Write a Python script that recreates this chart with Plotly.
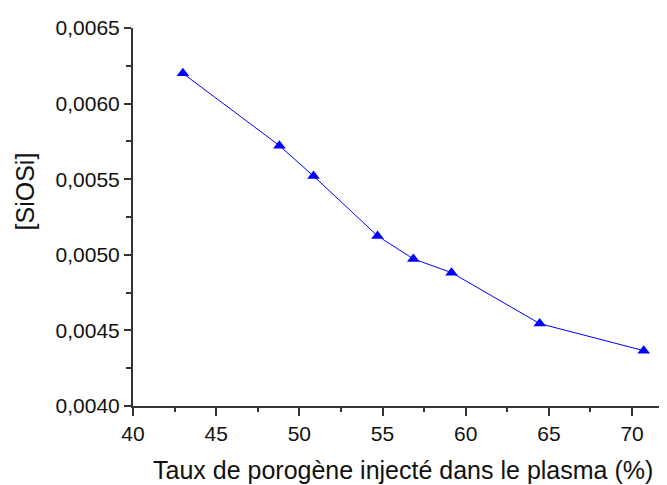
import plotly.graph_objects as go

# Taux de porogène (%) vs [SiOSi]
taux = [43.0, 48.8, 50.85, 54.7, 56.85, 59.15, 64.45, 70.7]
siosi = [0.00620, 0.005722, 0.005521, 0.005125, 0.004973, 0.004882, 0.004545, 0.004366]

x_ticks = [40, 45, 50, 55, 60, 65, 70]
y_ticks = [0.0040, 0.0045, 0.0050, 0.0055, 0.0060, 0.0065]

font = "Liberation Sans, Arial, sans-serif"
axis_color = "#333333"

fig = go.Figure()
fig.add_trace(go.Scatter(
    x=taux,
    y=siosi,
    mode="lines+markers",
    line=dict(color="#0000ff", width=1),
    marker=dict(symbol="triangle-up", size=11, color="#0000ff"),
    showlegend=False,
))

# page body has an 8px margin, so shift the plot area up/left by 8px
fig.update_layout(
    width=667,
    height=485,
    margin=dict(l=125, r=8, t=16, b=87),
    plot_bgcolor="white",
    paper_bgcolor="white",
    separators=",.",
    font=dict(family=font, size=21, color="#111111"),
    xaxis=dict(
        range=[40, 72.1],
        tickvals=x_ticks,
        showgrid=False,
        zeroline=False,
        showline=True,
        linecolor=axis_color,
        linewidth=2,
        ticks="outside",
        ticklen=8,
        tickwidth=1.5,
        tickcolor=axis_color,
        minor=dict(dtick=2.5, ticks="outside", ticklen=4, tickcolor=axis_color, tickwidth=1.5, showgrid=False),
    ),
    yaxis=dict(
        range=[0.0040, 0.0065],
        tickvals=y_ticks,
        tickformat=".4f",
        showgrid=False,
        zeroline=False,
        showline=True,
        linecolor=axis_color,
        linewidth=2,
        ticks="outside",
        ticklen=7,
        tickwidth=1.5,
        tickcolor=axis_color,
        minor=dict(dtick=0.00025, ticks="outside", ticklen=5, tickcolor=axis_color, tickwidth=1.5, showgrid=False),
    ),
    annotations=[
        dict(text="[SiOSi]", textangle=-90, xref="paper", yref="paper",
             x=-0.202, y=0.568, xanchor="center", yanchor="middle",
             showarrow=False, font=dict(size=25)),
        dict(text="Taux de porogène injecté dans le plasma (%)", xref="paper", yref="paper",
             x=0.505, y=-0.17, xanchor="center", yanchor="middle",
             showarrow=False, font=dict(size=25)),
    ],
)

fig.write_html("out.html")
